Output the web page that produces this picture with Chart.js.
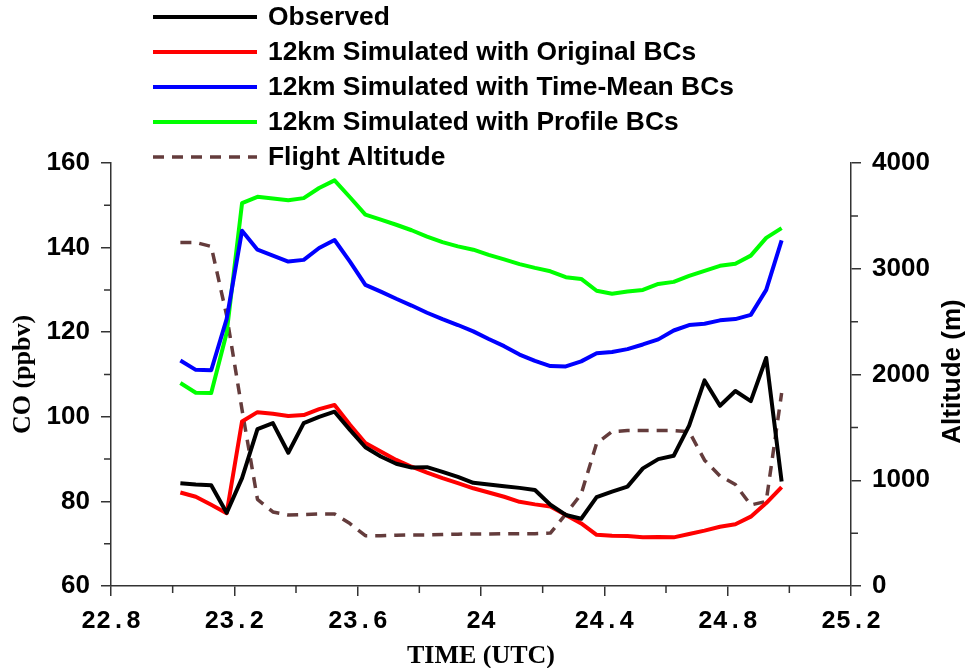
<!DOCTYPE html>
<html lang="en">
<head>
  <meta charset="UTF-8">
  <title>CO and Flight Altitude</title>
  <script src="https://cdn.jsdelivr.net/npm/chart.js"></script>
  <style>
    body { margin: 0; background: #fff; }
  </style>
</head>
<body>
  <canvas id="coChart" width="972" height="668"></canvas>

  <script>
// time (UTC hours) of each sample
const times = [23.025, 23.075, 23.125, 23.175, 23.225, 23.275, 23.325, 23.375, 23.425, 23.475,
  23.525, 23.575, 23.625, 23.675, 23.725, 23.775, 23.825, 23.875, 23.925, 23.975,
  24.025, 24.075, 24.125, 24.175, 24.225, 24.275, 24.325, 24.375, 24.425, 24.475,
  24.525, 24.575, 24.625, 24.675, 24.725, 24.775, 24.825, 24.875, 24.925, 24.975];

// CO (ppbv)
const observed = [84.3, 84.0, 83.8, 77.3, 85.5, 97.1, 98.5, 91.5, 98.5, 100.0,
  101.2, 96.9, 92.8, 90.6, 88.9, 88.0, 88.1, 87.0, 85.8, 84.4,
  84.0, 83.6, 83.2, 82.7, 79.2, 76.8, 75.9, 81.0, 82.3, 83.5,
  87.8, 90.0, 90.8, 97.9, 108.6, 102.6, 106.1, 103.7, 113.9, 84.7];
const originalBC = [82.1, 81.1, 79.2, 77.2, 98.9, 101.1, 100.7, 100.2, 100.4, 101.8,
  102.8, 98.1, 93.8, 91.8, 89.8, 88.2, 86.8, 85.5, 84.3, 83.1,
  82.1, 81.1, 79.9, 79.3, 78.8, 76.8, 74.8, 72.1, 71.9, 71.8,
  71.5, 71.6, 71.5, 72.3, 73.1, 74.0, 74.6, 76.4, 79.6, 83.4];
const timeMeanBC = [113.3, 111.1, 111.0, 123.1, 144.0, 139.5, 138.1, 136.7, 137.1, 139.9,
  141.8, 136.7, 131.2, 129.6, 127.9, 126.3, 124.6, 123.1, 121.7, 120.2,
  118.4, 116.7, 114.7, 113.2, 112.0, 111.9, 113.1, 115.0, 115.3, 116.0,
  117.1, 118.3, 120.4, 121.7, 122.0, 122.8, 123.1, 124.1, 130.0, 141.7];
const profileBC = [108.0, 105.7, 105.6, 119.8, 150.5, 152.0, 151.6, 151.2, 151.7, 154.1,
  155.9, 151.9, 147.8, 146.6, 145.4, 144.1, 142.6, 141.3, 140.3, 139.5,
  138.3, 137.2, 136.1, 135.2, 134.4, 133.0, 132.6, 129.8, 129.1, 129.6,
  130.0, 131.4, 131.9, 133.3, 134.5, 135.7, 136.2, 138.1, 142.3, 144.6];

// flight altitude (m)
const altitude = [3249, 3249, 3211, 2560, 1666, 820, 700, 672, 676, 681,
  681, 590, 476, 476, 480, 483, 483, 486, 490, 492,
  492, 494, 495, 495, 500, 680, 870, 1350, 1460, 1470,
  1470, 1470, 1470, 1460, 1190, 1041, 960, 766, 800, 1824];

// minor tick positions
const xMinor = [23.0, 23.4, 23.8, 24.2, 24.6, 25.0];
const coMinor = [70, 90, 110, 130, 150];
const altMinor = [500, 1500, 2500, 3500];

const axisColor = '#333';
const sansBold = { family: '"Liberation Sans", Arial, sans-serif', weight: 'bold' };

function pairs(values) {
  return times.map((t, i) => ({ x: t, y: values[i] }));
}

// legend stacked top-left, one row per dataset
const stackedLegend = {
  id: 'stackedLegend',
  afterDraw(chart) {
    const ctx = chart.ctx;
    ctx.save();
    ctx.font = 'bold 26.4px "Liberation Sans", Arial, sans-serif';
    ctx.textBaseline = 'middle';
    ctx.fillStyle = '#000';
    chart.data.datasets.forEach((ds, i) => {
      const y = 17 + i * 35;
      ctx.beginPath();
      ctx.strokeStyle = ds.borderColor;
      ctx.lineWidth = ds.borderWidth;
      ctx.setLineDash(ds.borderDash || []);
      ctx.moveTo(153, y);
      ctx.lineTo(257, y);
      ctx.stroke();
      ctx.setLineDash([]);
      ctx.fillText(ds.label, 268, y + 1);
    });
    ctx.restore();
  }
};

// short minor ticks and the right-hand axis title
const axisExtras = {
  id: 'axisExtras',
  afterDraw(chart) {
    const { ctx, chartArea, scales } = chart;
    ctx.save();
    ctx.strokeStyle = axisColor;
    ctx.lineWidth = 1.5;
    ctx.beginPath();
    xMinor.forEach(v => {
      const px = scales.x.getPixelForValue(v);
      ctx.moveTo(px, chartArea.bottom);
      ctx.lineTo(px, chartArea.bottom + 7);
    });
    coMinor.forEach(v => {
      const py = scales.y.getPixelForValue(v);
      ctx.moveTo(chartArea.left, py);
      ctx.lineTo(chartArea.left - 7, py);
    });
    altMinor.forEach(v => {
      const py = scales.y1.getPixelForValue(v);
      ctx.moveTo(chartArea.right, py);
      ctx.lineTo(chartArea.right + 7, py);
    });
    ctx.stroke();

    ctx.translate(953, (chartArea.top + chartArea.bottom) / 2 - 3);
    ctx.rotate(-Math.PI / 2);
    ctx.font = 'bold 26px "Liberation Sans", Arial, sans-serif';
    ctx.fillStyle = '#000';
    ctx.textAlign = 'center';
    ctx.textBaseline = 'middle';
    ctx.fillText('Altitude (m)', 0, 0);
    ctx.restore();
  }
};

const ctx = document.getElementById('coChart').getContext('2d');
new Chart(ctx, {
  type: 'line',
  data: {
    datasets: [
      { label: 'Observed', data: pairs(observed), borderColor: '#000000', borderWidth: 4, yAxisID: 'y' },
      { label: '12km Simulated with Original BCs', data: pairs(originalBC), borderColor: '#ff0000', borderWidth: 4, yAxisID: 'y' },
      { label: '12km Simulated with Time-Mean BCs', data: pairs(timeMeanBC), borderColor: '#0000ff', borderWidth: 4, yAxisID: 'y' },
      { label: '12km Simulated with Profile BCs', data: pairs(profileBC), borderColor: '#00ff00', borderWidth: 4, yAxisID: 'y' },
      { label: 'Flight Altitude', data: pairs(altitude), borderColor: '#643c3c', borderWidth: 3.5, borderDash: [11, 8], yAxisID: 'y1' }
    ]
  },
  options: {
    responsive: false,
    animation: false,
    elements: { point: { radius: 0 }, line: { tension: 0, fill: false, borderJoinStyle: 'round' } },
    layout: { padding: { top: 163, left: 0, right: 0, bottom: 0 } },
    plugins: { legend: { display: false }, tooltip: { enabled: false } },
    scales: {
      x: {
        type: 'linear',
        min: 22.8,
        max: 25.2,
        afterFit: s => { s.height = 82; },
        afterBuildTicks: s => {
          s.ticks = [22.8, 23.2, 23.6, 24.0, 24.4, 24.8, 25.2].map(v => ({ value: v }));
        },
        ticks: {
          color: '#000',
          padding: 11,
          font: { family: '"Liberation Mono", "Courier New", monospace', weight: 'bold', size: 25 },
          callback: v => String(Math.round(v * 10) / 10)
        },
        grid: { drawOnChartArea: false, drawTicks: true, tickLength: 10, color: axisColor, lineWidth: 1.5 },
        border: { display: true, color: axisColor, width: 1.5 },
        title: {
          display: true,
          text: 'TIME (UTC)',
          color: '#000',
          padding: 0,
          font: { family: '"Liberation Serif", "Times New Roman", serif', weight: 'bold', size: 26, lineHeight: 0.9 }
        }
      },
      y: {
        position: 'left',
        min: 60,
        max: 160,
        afterFit: s => { s.width = 111; },
        ticks: { stepSize: 20, color: '#000', padding: 11, font: { ...sansBold, size: 26 } },
        grid: { drawOnChartArea: false, drawTicks: true, tickLength: 10, color: axisColor, lineWidth: 1.5 },
        border: { display: true, color: axisColor, width: 1.5 },
        title: {
          display: true,
          text: 'CO (ppbv)',
          color: '#000',
          padding: 8,
          font: { family: '"Liberation Serif", "Times New Roman", serif', weight: 'bold', size: 26 }
        }
      },
      y1: {
        position: 'right',
        min: 0,
        max: 4000,
        afterFit: s => { s.width = 121; },
        ticks: {
          stepSize: 1000,
          color: '#000',
          padding: 11,
          font: { ...sansBold, size: 26 },
          callback: v => String(v)
        },
        grid: { drawOnChartArea: false, drawTicks: true, tickLength: 10, color: axisColor, lineWidth: 1.5 },
        border: { display: true, color: axisColor, width: 1.5 }
      }
    }
  },
  plugins: [stackedLegend, axisExtras]
});
  </script>
</body>
</html>
